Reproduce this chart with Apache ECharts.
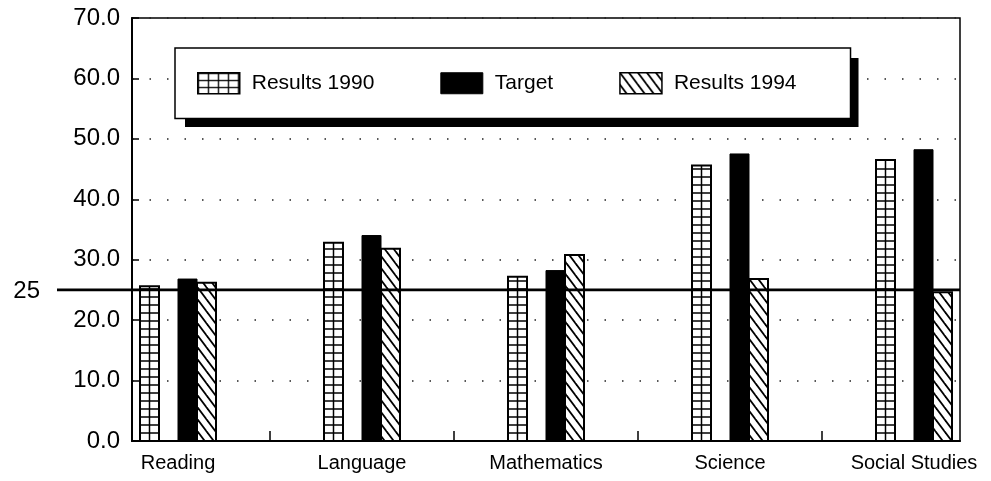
<!DOCTYPE html>
<html>
<head>
<meta charset="utf-8">
<script src="https://cdn.jsdelivr.net/npm/echarts@6/dist/echarts.min.js"></script>
<style>
  html, body { margin: 0; padding: 0; background: #fff; }
  #chart { width: 991px; height: 481px; }
</style>
</head>
<body>
<div id="chart"></div>
<script>
// Subject areas and scores
const categories = ['Reading', 'Language', 'Mathematics', 'Science', 'Social Studies'];
const results1990 = [25.6, 32.8, 27.2, 45.6, 46.5];
const target = [26.8, 34.0, 28.2, 47.5, 48.2];
const results1994 = [26.2, 31.8, 30.8, 26.8, 24.6];
const referenceLevel = [25];
const yMin = 0, yMax = 70, yStep = 10;

const FONT = '"Liberation Sans", Arial, Helvetica, sans-serif';
const BAR_W = 19;      // width of one bar
const CELL_H = 8;      // row height of the gridded bars

// Tiled fills
function makeGridTile() {
  const c = document.createElement('canvas');
  c.width = 10; c.height = 7;
  const g = c.getContext('2d');
  g.fillStyle = '#fff'; g.fillRect(0, 0, 10, 7);
  g.fillStyle = '#000';
  g.fillRect(0, 0, 10, 1.3);
  g.fillRect(0, 0, 1.3, 7);
  return c;
}
function makeHatchTile() {
  const w = 9, h = 12;
  const c = document.createElement('canvas');
  c.width = w; c.height = h;
  const g = c.getContext('2d');
  g.fillStyle = '#fff'; g.fillRect(0, 0, w, h);
  g.strokeStyle = '#000'; g.lineWidth = 1.8;
  for (const dx of [-w, 0, w]) {
    g.beginPath(); g.moveTo(dx - w, -h); g.lineTo(dx + 2 * w, 2 * h); g.stroke();
  }
  return c;
}
const gridFill = { image: makeGridTile(), repeat: 'repeat' };
const hatchFill = { image: makeHatchTile(), repeat: 'repeat' };

// Position of a bar inside its subject group (four slots, the second left empty)
function slotRect(api, slot) {
  const i = api.value(0), v = api.value(1);
  const top = api.coord([i, v]);
  const base = api.coord([i, 0]);
  const cx = top[0] + (slot - 1.5) * BAR_W;
  return { x: cx - BAR_W / 2, y: top[1], width: BAR_W, height: base[1] - top[1] };
}

function renderGridBar(params, api) {
  const r = slotRect(api, 0);
  const line = { stroke: '#000', lineWidth: 1.5 };
  const children = [{ type: 'rect', shape: r, style: { fill: '#fff', stroke: '#000', lineWidth: 2 } }];
  const cx = r.x + r.width / 2;
  children.push({ type: 'line', shape: { x1: cx, y1: r.y, x2: cx, y2: r.y + r.height }, style: line });
  for (let y = r.y + r.height - CELL_H; y > r.y + 2; y -= CELL_H) {
    children.push({ type: 'line', shape: { x1: r.x, y1: y, x2: r.x + r.width, y2: y }, style: line });
  }
  return { type: 'group', children };
}
function renderSolidBar(params, api) {
  const r = slotRect(api, 2);
  return { type: 'rect', shape: r, style: { fill: '#000', stroke: '#000', lineWidth: 1 } };
}
function renderHatchBar(params, api) {
  const r = slotRect(api, 3);
  return { type: 'rect', shape: r, style: { fill: hatchFill, stroke: '#000', lineWidth: 2 } };
}
// Horizontal reference level, carried out past the value axis with its label
function renderReference(params, api) {
  const cs = params.coordSys;
  const v = api.value(1);
  const y = api.coord([0, v])[1];
  const x0 = cs.x - 75;
  return {
    type: 'group',
    children: [
      { type: 'line', shape: { x1: x0, y1: y, x2: cs.x + cs.width, y2: y },
        style: { stroke: '#000', lineWidth: 2.8 } },
      { type: 'text', style: { x: x0 - 17, y: y + 1, text: String(v), fill: '#000',
        font: '24px ' + FONT, textAlign: 'right', textVerticalAlign: 'middle' } }
    ]
  };
}

const pairs = arr => arr.map((v, i) => [i, v]);

// Shared legend layout; the first copy only paints the drop shadow block
const legendNames = ['Results 1990', 'Target', 'Results 1994'];
const legendFills = [
  { color: gridFill, borderColor: '#000', borderWidth: 1.5 },
  { color: '#000', borderColor: '#000', borderWidth: 1 },
  { color: hatchFill, borderColor: '#000', borderWidth: 1.5 }
];
const legendBase = {
  orient: 'horizontal',
  selectedMode: false,
  padding: [24, 54, 24, 22],
  itemGap: 66,
  itemWidth: 42, itemHeight: 21,
  textStyle: { fontSize: 21, color: '#000', fontFamily: FONT, padding: [0, 0, 0, 7] }
};

const chart = echarts.init(document.getElementById('chart'));
chart.setOption({
  animation: false,
  backgroundColor: '#fff',
  textStyle: { fontFamily: FONT, color: '#000' },
  grid: {
    left: 132, right: 31, top: 18, bottom: 40,
    show: true, borderColor: '#000', borderWidth: 1.5, backgroundColor: 'transparent'
  },
  legend: [
    Object.assign({}, legendBase, {
      left: 185, top: 58, z: 3,
      backgroundColor: '#000', borderWidth: 0,
      textStyle: Object.assign({}, legendBase.textStyle, { color: 'rgba(0,0,0,0)' }),
      data: legendNames.map(name => ({ name, icon: 'rect', itemStyle: { opacity: 0 } }))
    }),
    Object.assign({}, legendBase, {
      left: 175, top: 48, z: 4,
      backgroundColor: '#fff', borderColor: '#000', borderWidth: 1.5,
      data: legendNames.map((name, i) => ({ name, icon: 'rect', itemStyle: legendFills[i] }))
    })
  ],
  xAxis: {
    type: 'value',
    min: -0.25, max: categories.length - 0.75,
    axisLine: { show: true, onZero: false, lineStyle: { color: '#000', width: 2 } },
    axisTick: {
      show: true, inside: true, length: 10,
      customValues: categories.slice(1).map((_, i) => i + 0.5),
      lineStyle: { color: '#000', width: 1.5 }
    },
    axisLabel: {
      customValues: categories.map((_, i) => i),
      formatter: v => categories[Math.round(v)],
      fontSize: 20, color: '#000', margin: 12, fontFamily: FONT
    },
    splitLine: { show: false }
  },
  yAxis: {
    type: 'value',
    min: yMin, max: yMax, interval: yStep,
    axisLine: { show: true, onZero: false, lineStyle: { color: '#000', width: 2 } },
    axisTick: { show: true, inside: true, length: 7, lineStyle: { color: '#000', width: 1.5 } },
    axisLabel: {
      formatter: v => v.toFixed(1),
      fontSize: 24, color: '#000', margin: 12, fontFamily: FONT
    },
    splitLine: { show: true, lineStyle: { color: '#222', width: 1.5, type: [1.5, 16] } }
  },
  series: [
    { name: 'Results 1990', type: 'custom', renderItem: renderGridBar, clip: false,
      itemStyle: { color: gridFill }, encode: { x: 0, y: 1 }, data: pairs(results1990), z: 3 },
    { name: 'Target', type: 'custom', renderItem: renderSolidBar, clip: false,
      itemStyle: { color: '#000' }, encode: { x: 0, y: 1 }, data: pairs(target), z: 3 },
    { name: 'Results 1994', type: 'custom', renderItem: renderHatchBar, clip: false,
      itemStyle: { color: hatchFill }, encode: { x: 0, y: 1 }, data: pairs(results1994), z: 3 },
    { name: 'Reference', type: 'custom', renderItem: renderReference, clip: false,
      encode: { x: 0, y: 1 }, data: referenceLevel.map(v => [0, v]), z: 5, silent: true }
  ]
});
</script>
</body>
</html>
